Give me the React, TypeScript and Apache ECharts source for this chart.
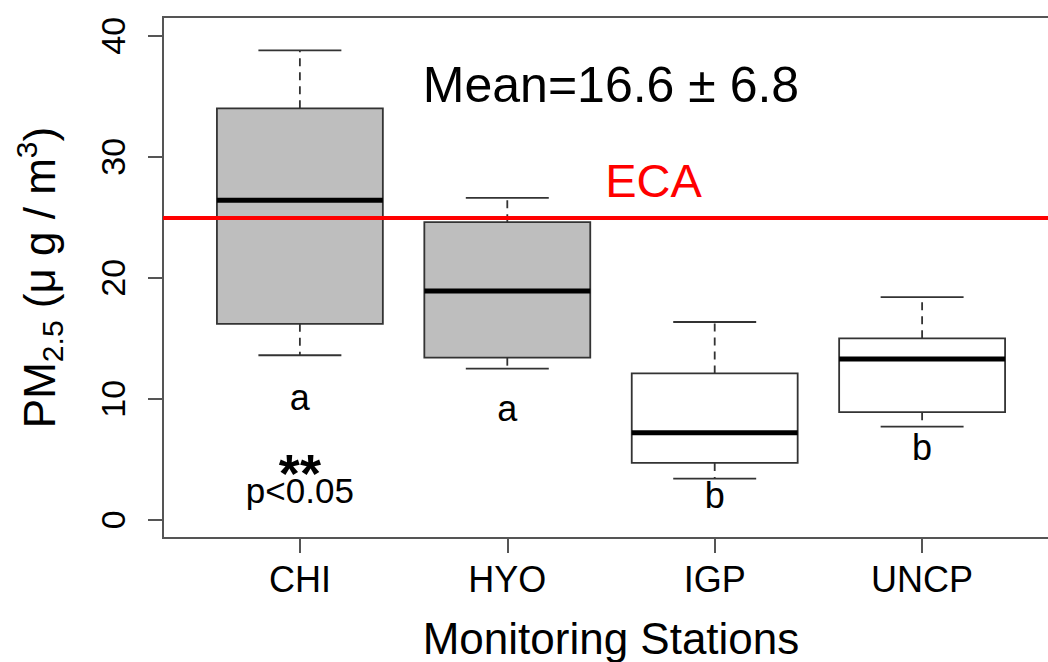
import React, { useEffect, useRef } from 'react';
import * as echarts from 'echarts';

// ---- data ----
const stations = ['CHI', 'HYO', 'IGP', 'UNCP'];
const whiskerLow = [13.6, 12.5, 3.4, 7.7];
const q1 = [16.2, 13.4, 4.7, 8.9];
const median = [26.4, 18.9, 7.2, 13.3];
const q3 = [34.0, 24.6, 12.1, 15.0];
const whiskerHigh = [38.8, 26.6, 16.35, 18.4];
const boxFills = ['#bebebe', '#bebebe', '#ffffff', '#ffffff'];
const groupLetters = ['a', 'a', 'b', 'b'];
const letterY = [10.1, 9.2, 2.0, 6.0];
const ecaLimit = 25;
const yTicks = [0, 10, 20, 30, 40];
const xTicks = [1, 2, 3, 4];
const meanText = 'Mean=16.6 ± 6.8';
const meanPos = [2.5, 35.9];
const ecaText = 'ECA';
const ecaPos = [2.705, 28.0];
const starText = '**';
const pText = 'p<0.05';
const sigPos = [1, 2.9];

const FONT = '"Liberation Sans", Arial, Helvetica, sans-serif';

export default function App() {
  const ref = useRef<HTMLDivElement>(null);
  useEffect(() => {
    if (!ref.current) return;
    const chart = echarts.init(ref.current, undefined, { renderer: 'svg' });
    const boxData = stations.map((s, i) => [i + 1, whiskerLow[i], q1[i], median[i], q3[i], whiskerHigh[i]]);
    const line = { stroke: '#333', lineWidth: 1.8, fill: null } as any;
    const option: any = {
      animation: false,
      backgroundColor: '#fff',
      textStyle: { fontFamily: FONT },
      grid: {
        left: 163, top: 17, width: 896, height: 521,
        outerBoundsMode: 'none', containLabel: false,
        show: true, borderColor: '#555', borderWidth: 2, backgroundColor: 'transparent',
      },
      xAxis: {
        type: 'value', min: 0.34, max: 4.66,
        splitLine: { show: false },
        axisLine: { show: false, onZero: false },
        axisTick: { show: true, customValues: xTicks, length: 15, inside: false, lineStyle: { color: '#555', width: 2 } },
        axisLabel: {
          show: true, customValues: xTicks, margin: 23, fontSize: 36, color: '#000', fontFamily: FONT,
          formatter: (v: number) => stations[Math.round(v) - 1] ?? '',
        },
        name: 'Monitoring Stations', nameLocation: 'middle', nameGap: 78,
        nameTextStyle: { fontSize: 44, color: '#000', fontFamily: FONT },
      },
      yAxis: {
        type: 'value', min: -1.5, max: 41.55,
        splitLine: { show: false },
        axisLine: { show: false, onZero: false },
        axisTick: { show: true, customValues: yTicks, length: 15, inside: false, lineStyle: { color: '#555', width: 2 } },
        axisLabel: {
          show: true, customValues: yTicks, margin: 33, fontSize: 34, rotate: 90, color: '#000', fontFamily: FONT,
        },
        name: '{m|PM}{s|2.5}{m| (μ g / m}{u|3}{m|)}',
        nameLocation: 'middle', nameGap: 96, nameRotate: 90,
        nameTextStyle: {
          color: '#000', fontFamily: FONT, fontSize: 44,
          rich: {
            m: { fontSize: 44, lineHeight: 56, fontFamily: FONT, color: '#000' },
            s: { fontSize: 30, lineHeight: 30, verticalAlign: 'bottom', fontFamily: FONT, color: '#000' },
            u: { fontSize: 30, lineHeight: 30, verticalAlign: 'top', fontFamily: FONT, color: '#000' },
          },
        },
      },
      series: [
        {
          type: 'custom',
          data: boxData,
          encode: { x: 0, y: [1, 2, 3, 4, 5] },
          clip: false,
          z: 2,
          renderItem: (params: any, api: any) => {
            const i = params.dataIndex;
            const x = api.value(0);
            const lo = api.value(1), a = api.value(2), m = api.value(3), b = api.value(4), hi = api.value(5);
            const c = (xx: number, v: number) => api.coord([xx, v]);
            const tl = c(x - 0.4, b), br = c(x + 0.4, a);
            const cx = c(x, 0)[0];
            const capL = c(x - 0.2, 0)[0], capR = c(x + 0.2, 0)[0];
            const yHi = c(x, hi)[1], yLo = c(x, lo)[1], yA = c(x, a)[1], yB = c(x, b)[1], yM = c(x, m)[1];
            return {
              type: 'group',
              children: [
                { type: 'line', shape: { x1: cx, y1: yB, x2: cx, y2: yHi }, style: { ...line, lineDash: [8, 6] } },
                { type: 'line', shape: { x1: cx, y1: yA, x2: cx, y2: yLo }, style: { ...line, lineDash: [8, 6] } },
                { type: 'line', shape: { x1: capL, y1: yHi, x2: capR, y2: yHi }, style: line },
                { type: 'line', shape: { x1: capL, y1: yLo, x2: capR, y2: yLo }, style: line },
                {
                  type: 'rect',
                  shape: { x: tl[0], y: tl[1], width: br[0] - tl[0], height: br[1] - tl[1] },
                  style: { fill: boxFills[i], stroke: '#333', lineWidth: 1.8 },
                },
                {
                  type: 'line', shape: { x1: tl[0], y1: yM, x2: br[0], y2: yM },
                  style: { stroke: '#000', lineWidth: 5 },
                },
              ],
            };
          },
          markLine: {
            silent: true,
            symbol: ['none', 'none'],
            label: { show: false },
            lineStyle: { color: '#f00', width: 4, type: 'solid', opacity: 1 },
            data: [{ yAxis: ecaLimit }],
            z: 5,
          },
        },
        {
          type: 'scatter',
          symbolSize: 0,
          z: 6,
          itemStyle: { opacity: 1 },
          data: stations.map((s, i) => ({ value: [i + 1, letterY[i]], name: groupLetters[i] })),
          label: {
            show: true, position: 'inside', formatter: (p: any) => p.name,
            fontSize: 36, color: '#000', fontFamily: FONT,
          },
        },
        {
          type: 'scatter',
          symbolSize: 0,
          z: 6,
          itemStyle: { opacity: 1 },
          data: [
            { value: meanPos, name: meanText, label: { fontSize: 50, color: '#000' } },
            { value: ecaPos, name: ecaText, label: { fontSize: 47, color: '#f00' } },
            {
              value: sigPos, name: `{s|${starText}}\n{p|${pText}}`,
              label: {
                color: '#000',
                rich: {
                  s: { fontSize: 54, lineHeight: 11, fontWeight: 'bold', color: '#000', fontFamily: FONT },
                  p: { fontSize: 35, lineHeight: 24, color: '#000', fontFamily: FONT },
                },
              },
            },
          ],
          label: {
            show: true, position: 'inside', formatter: (p: any) => p.name, fontFamily: FONT,
          },
        },
      ],
    };
    chart.setOption(option);
    return () => chart.dispose();
  }, []);
  return <div ref={ref} style={{ position: 'absolute', left: 0, top: 0, width: 1048, height: 662 }} />;
}
